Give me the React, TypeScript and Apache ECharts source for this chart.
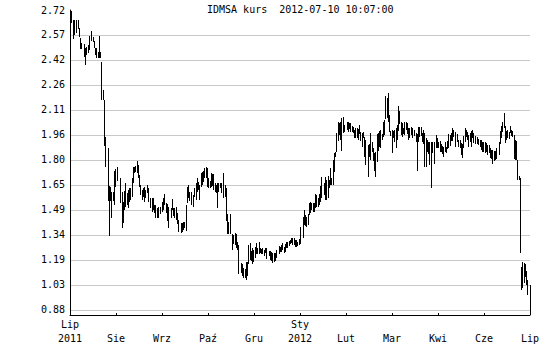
import React, { useEffect, useRef } from "react";
import * as echarts from "echarts";

// x tick labels (one every 36.6 days from 2011-07-10 to 2012-07-10)
const xTickLabels = ["Lip\n2011", "\nSie", "\nWrz", "\nPaź", "\nGru", "Sty\n2012", "\nLut", "\nMar", "\nKwi", "\nCze", "\nLip"];
const yTickLabels = ["0.88", "1.03", "1.19", "1.34", "1.49", "1.65", "1.80", "1.96", "2.11", "2.26", "2.42", "2.57", "2.72"];

// [day since 2011-07-10, high, low]
const barsJulNov2011 = [
  [0, 2.72, 2.628], [1, 2.714, 2.638], [2, 2.659, 2.54], [3, 2.659, 2.567], [5, 2.659, 2.577], [6, 2.659, 2.603],
  [7, 2.612, 2.552], [8, 2.55, 2.479], [9, 2.516, 2.479], [11, 2.509, 2.434], [12, 2.485, 2.383], [13, 2.495, 2.444],
  [14, 2.505, 2.454], [15, 2.563, 2.475], [17, 2.591, 2.53], [18, 2.557, 2.526], [19, 2.53, 2.485], [20, 2.485, 2.444],
  [21, 2.485, 2.428], [22, 2.464, 2.428], [23, 2.563, 2.428], [24, 2.464, 2.428], [25, 2.399, 2.168], [26, 2.229, 2.168],
  [27, 2.168, 1.888], [28, 1.939, 1.759], [30, 1.872, 1.551], [31, 1.641, 1.336], [32, 1.636, 1.551], [33, 1.602, 1.442],
  [34, 1.606, 1.551], [35, 1.733, 1.524], [36, 1.745, 1.636], [37, 1.759, 1.673], [40, 1.688, 1.534], [41, 1.602, 1.385],
  [42, 1.54, 1.412], [43, 1.61, 1.493], [44, 1.657, 1.514], [45, 1.596, 1.524], [46, 1.616, 1.504], [47, 1.626, 1.545],
  [48, 1.626, 1.555], [49, 1.692, 1.575], [50, 1.759, 1.657], [51, 1.759, 1.718], [52, 1.765, 1.729], [53, 1.794, 1.718],
  [54, 1.769, 1.688], [55, 1.708, 1.636], [56, 1.647, 1.585], [57, 1.616, 1.555], [58, 1.63, 1.575], [59, 1.636, 1.545],
  [60, 1.616, 1.565], [61, 1.647, 1.596], [62, 1.626, 1.545], [64, 1.569, 1.504], [65, 1.565, 1.483], [66, 1.565, 1.493],
  [67, 1.524, 1.473], [68, 1.524, 1.442], [69, 1.504, 1.442], [70, 1.514, 1.442], [72, 1.514, 1.467], [73, 1.545, 1.483],
  [74, 1.565, 1.493], [75, 1.589, 1.524], [76, 1.534, 1.473], [77, 1.528, 1.426], [78, 1.514, 1.385], [80, 1.508, 1.442],
  [81, 1.561, 1.493], [82, 1.504, 1.459], [83, 1.504, 1.442], [84, 1.514, 1.432], [85, 1.473, 1.405], [86, 1.432, 1.36],
  [88, 1.412, 1.35], [89, 1.412, 1.36], [90, 1.422, 1.371], [91, 1.418, 1.381], [92, 1.524, 1.367], [93, 1.636, 1.534],
  [94, 1.647, 1.565], [95, 1.606, 1.549], [96, 1.602, 1.524], [98, 1.585, 1.51], [99, 1.626, 1.575], [100, 1.657, 1.555],
  [101, 1.692, 1.606], [102, 1.663, 1.616], [103, 1.647, 1.555], [104, 1.718, 1.636], [105, 1.729, 1.647], [106, 1.733, 1.663],
  [107, 1.753, 1.688], [108, 1.759, 1.688], [109, 1.749, 1.636], [110, 1.688, 1.63], [111, 1.671, 1.63], [112, 1.718, 1.636],
  [113, 1.712, 1.643], [114, 1.712, 1.616], [115, 1.657, 1.602], [116, 1.647, 1.596], [117, 1.657, 1.508], [118, 1.657, 1.606],
  [119, 1.657, 1.626], [120, 1.657, 1.596], [122, 1.718, 1.565], [123, 1.647, 1.575], [124, 1.63, 1.426],
];

const barsNov2011Mar2012 = [
  [125, 1.467, 1.344], [126, 1.422, 1.344], [127, 1.467, 1.344], [129, 1.344, 1.248], [130, 1.34, 1.283], [131, 1.35, 1.279],
  [132, 1.344, 1.258], [133, 1.299, 1.248], [134, 1.279, 1.099], [136, 1.166, 1.105], [137, 1.16, 1.091], [138, 1.136, 1.078],
  [139, 1.131, 1.074], [140, 1.172, 1.064], [141, 1.177, 1.091], [142, 1.279, 1.16], [143, 1.289, 1.187], [144, 1.242, 1.181],
  [145, 1.262, 1.16], [146, 1.248, 1.177], [147, 1.268, 1.201], [148, 1.289, 1.221], [149, 1.262, 1.221], [150, 1.299, 1.221],
  [151, 1.258, 1.228], [152, 1.254, 1.221], [153, 1.258, 1.221], [154, 1.248, 1.213], [155, 1.258, 1.228], [156, 1.258, 1.193],
  [158, 1.242, 1.213], [159, 1.242, 1.187], [160, 1.238, 1.181], [161, 1.228, 1.166], [162, 1.228, 1.172], [163, 1.228, 1.181],
  [164, 1.248, 1.197], [166, 1.275, 1.221], [167, 1.268, 1.238], [168, 1.279, 1.238], [169, 1.289, 1.248], [170, 1.268, 1.228],
  [171, 1.283, 1.238], [172, 1.295, 1.258], [173, 1.299, 1.258], [174, 1.303, 1.275], [175, 1.309, 1.283], [176, 1.32, 1.289],
  [177, 1.324, 1.279], [178, 1.32, 1.279], [179, 1.309, 1.268], [180, 1.309, 1.268], [181, 1.299, 1.275], [182, 1.316, 1.279],
  [183, 1.391, 1.283], [185, 1.453, 1.32], [186, 1.493, 1.401], [187, 1.463, 1.397], [188, 1.453, 1.391], [189, 1.467, 1.401],
  [190, 1.534, 1.463], [191, 1.54, 1.473], [192, 1.534, 1.493], [193, 1.534, 1.483], [194, 1.534, 1.483], [195, 1.589, 1.504],
  [196, 1.585, 1.514], [197, 1.565, 1.514], [198, 1.589, 1.524], [199, 1.643, 1.545], [200, 1.698, 1.565], [202, 1.657, 1.585],
  [203, 1.698, 1.555], [204, 1.677, 1.555], [205, 1.704, 1.569], [206, 1.677, 1.63], [207, 1.749, 1.647], [208, 1.688, 1.647],
  [209, 1.8, 1.647], [210, 1.841, 1.729], [211, 1.851, 1.821], [212, 1.964, 1.851], [213, 2.035, 1.917], [214, 2.025, 1.953],
  [215, 2.035, 1.923], [216, 2.056, 1.855], [217, 2.066, 1.964], [218, 2.015, 1.97], [220, 2.035, 1.984], [221, 2.031, 1.97],
  [222, 2.025, 1.99], [223, 2.025, 1.97], [224, 2.011, 1.974], [225, 2.004, 1.964], [226, 1.984, 1.937], [227, 1.994, 1.937],
  [228, 1.998, 1.937], [229, 1.99, 1.923], [230, 2.015, 1.957], [231, 1.974, 1.917], [232, 1.964, 1.882], [233, 1.974, 1.933],
  [234, 1.943, 1.821], [235, 1.923, 1.769], [237, 1.892, 1.698], [238, 1.896, 1.821], [239, 1.964, 1.8], [240, 1.912, 1.851],
  [241, 1.872, 1.794], [242, 1.841, 1.733], [243, 1.851, 1.698], [244, 1.957, 1.79], [245, 1.964, 1.855], [246, 1.978, 1.882],
  [247, 1.984, 1.872],
];

const barsMarJul2012 = [
  [248, 1.957, 1.923], [249, 2.035, 1.943], [250, 2.045, 1.953], [251, 2.195, 2.051], [252, 2.178, 2.056], [253, 2.209, 2.035],
  [254, 2.076, 1.974], [255, 1.978, 1.949], [256, 1.984, 1.841], [257, 1.978, 1.933], [258, 1.984, 1.908], [259, 1.994, 1.876],
  [260, 2.015, 1.923], [261, 2.133, 1.978], [262, 2.101, 2.019], [263, 2.035, 1.953], [264, 2.025, 1.943], [265, 1.998, 1.957],
  [266, 2.035, 1.953], [267, 2.031, 1.984], [268, 2.025, 1.957], [269, 1.994, 1.923], [270, 1.994, 1.937], [271, 2.004, 1.953],
  [272, 1.998, 1.933], [274, 1.984, 1.949], [275, 1.964, 1.908], [276, 1.957, 1.733], [277, 2.004, 1.908], [278, 2.004, 1.943],
  [279, 2.004, 1.949], [280, 1.964, 1.908], [281, 1.984, 1.896], [282, 1.964, 1.759], [283, 1.933, 1.759], [284, 1.923, 1.851],
  [285, 1.912, 1.835], [286, 1.912, 1.769], [287, 1.912, 1.63], [288, 1.908, 1.841], [290, 1.908, 1.773], [291, 1.953, 1.872],
  [292, 1.933, 1.872], [293, 1.912, 1.876], [294, 1.917, 1.851], [295, 1.896, 1.851], [296, 1.888, 1.835], [297, 1.882, 1.821],
  [298, 1.912, 1.851], [299, 1.882, 1.841], [300, 1.917, 1.868], [301, 1.957, 1.876], [302, 1.953, 1.888], [303, 1.964, 1.917],
  [304, 1.998, 1.917], [305, 1.984, 1.943], [306, 1.974, 1.882], [308, 1.957, 1.912], [309, 1.923, 1.882], [310, 1.923, 1.872],
  [311, 1.902, 1.831], [312, 1.896, 1.81], [313, 1.949, 1.876], [314, 1.998, 1.908], [315, 1.984, 1.943], [316, 1.974, 1.923],
  [317, 1.953, 1.882], [318, 1.964, 1.912], [319, 1.978, 1.882], [320, 1.984, 1.937], [321, 1.964, 1.902], [322, 1.949, 1.896],
  [324, 1.943, 1.896], [325, 1.929, 1.892], [326, 1.923, 1.882], [327, 1.923, 1.861], [328, 1.912, 1.851], [329, 1.908, 1.851],
  [330, 1.908, 1.841], [331, 1.902, 1.851], [332, 1.892, 1.831], [333, 1.892, 1.841], [334, 1.876, 1.814], [335, 1.861, 1.806],
  [336, 1.861, 1.773], [337, 1.855, 1.794], [338, 1.855, 1.8], [339, 1.876, 1.806], [341, 1.912, 1.831], [342, 1.978, 1.896],
  [343, 2.011, 1.933], [344, 2.035, 1.974], [345, 2.086, 1.998], [346, 2.011, 1.902], [347, 1.978, 1.923], [348, 1.984, 1.937],
  [349, 1.974, 1.929], [350, 2.011, 1.964], [351, 1.984, 1.949], [352, 1.978, 1.943], [353, 1.953, 1.806], [354, 1.923, 1.8],
  [355, 1.917, 1.8], [356, 1.8, 1.677], [357, 1.704, 1.677], [358, 1.688, 1.228], [359, 1.146, 1.003], [360, 1.177, 1.017],
  [361, 1.166, 1.044], [362, 1.16, 1.084], [363, 1.119, 1.033], [364, 1.064, 0.972], [366, 1.033, 0.849],
];

const Y_MIN = 0.8493;
const Y_MAX = 2.72;
const X_MAX = 366;

export default function App() {
  const ref = useRef<HTMLDivElement>(null);

  useEffect(() => {
    document.body.style.margin = "0";
    if (!ref.current) return;
    const chart = echarts.init(ref.current, null, { renderer: "svg" });
    const yStep = (2.72 - 0.88) / (yTickLabels.length - 1);
    const yTicks = yTickLabels.map((_, i) => Number((0.88 + i * yStep).toFixed(6)));
    const xStep = X_MAX / (xTickLabels.length - 1);
    const data = [...barsJulNov2011, ...barsNov2011Mar2012, ...barsMarJul2012];
    const font = "'DejaVu Sans Mono', monospace";

    chart.setOption({
      animation: false,
      backgroundColor: "#ffffff",
      title: {
        text: "IDMSA kurs  2012-07-10 10:07:00",
        left: 207,
        top: 4,
        padding: 0,
        textStyle: { fontFamily: font, fontSize: 10, fontWeight: "normal", color: "#000" },
      },
      grid: { left: 70, right: 20, top: 10, bottom: 35 },
      xAxis: {
        type: "value",
        min: 0,
        max: X_MAX,
        interval: xStep,
        axisLine: { show: true, lineStyle: { color: "#000", width: 1 } },
        axisTick: { show: true, inside: true, length: 2, lineStyle: { color: "#000" } },
        splitLine: { show: false },
        axisLabel: {
          showMinLabel: true,
          showMaxLabel: true,
          margin: 2,
          fontFamily: font,
          fontSize: 10,
          lineHeight: 14,
          color: "#000",
          formatter: (v: number) => xTickLabels[Math.round(v / xStep)] ?? "",
        },
      },
      yAxis: {
        type: "value",
        min: Y_MIN,
        max: Y_MAX,
        axisLine: { show: true, lineStyle: { color: "#000", width: 1 } },
        axisTick: { show: false, customValues: yTicks },
        splitLine: { show: true, showMaxLine: false, lineStyle: { color: "#c8c8c8", width: 1 } },
        axisLabel: {
          customValues: yTicks,
          margin: 5,
          fontFamily: font,
          fontSize: 10,
          color: "#000",
          formatter: (v: number) => yTickLabels[Math.round((v - 0.88) / yStep)] ?? "",
        },
      },
      series: [
        {
          type: "custom",
          clip: false,
          data,
          encode: { x: 0, y: [1, 2] },
          renderItem: (params: any, api: any) => {
            const x = api.value(0);
            const hi = api.value(1);
            const lo = api.value(2);
            const p1 = api.coord([x, hi]);
            const p2 = api.coord([x, lo]);
            const px = Math.round(p1[0]) + 0.5;
            let y1 = Math.round(p1[1]);
            let y2 = Math.round(p2[1]);
            if (y2 - y1 < 1) y2 = y1 + 1;
            return {
              type: "line",
              shape: { x1: px, y1, x2: px, y2 },
              style: { stroke: "#000", lineWidth: 1 },
            };
          },
        },
      ],
    });
    return () => chart.dispose();
  }, []);

  return <div ref={ref} style={{ width: 550, height: 350 }} />;
}
